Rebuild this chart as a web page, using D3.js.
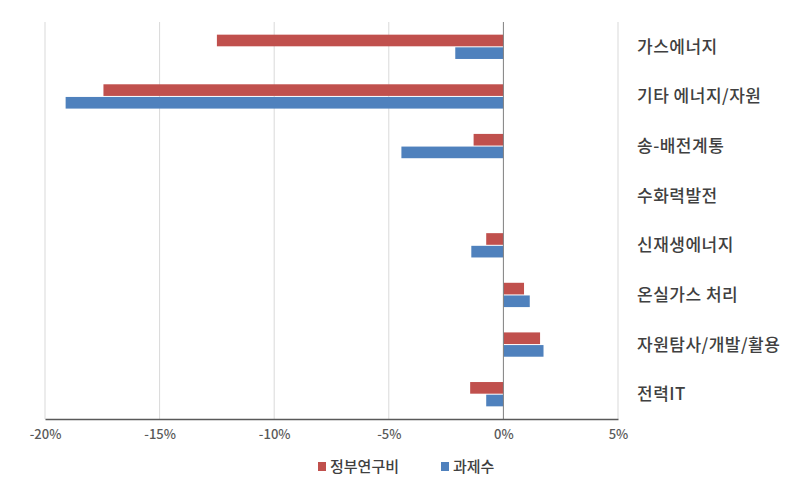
<!DOCTYPE html>
<html><head><meta charset="utf-8">
<script src="https://cdn.jsdelivr.net/npm/d3@7"></script>
<style>body{margin:0;background:#fff}</style>
</head><body><svg id="c" width="812" height="490"></svg>
<script>
const categories = ["가스에너지","기타 에너지/자원","송-배전계통","수화력발전","신재생에너지","온실가스 처리","자원탐사/개발/활용","전력IT"];
const seriesNames = ["정부연구비","과제수"];
const funding = [-12.5,-17.45,-1.3,0,-0.75,0.9,1.6,-1.45];
const projects = [-2.1,-19.1,-4.45,0,-1.4,1.15,1.75,-0.75];
const tickValues = [-20,-15,-10,-5,0,5];
const colors = ["#c0504d","#4f81bd"];

const svg = d3.select("#c");
const font = "'Noto Sans CJK KR','Noto Sans',sans-serif";
const x = d3.scaleLinear().domain([-20,5]).range([45,618]);
const y = d3.scaleBand().domain(categories).range([22,419]).paddingInner(0).paddingOuter(0);
const inner = d3.scaleBand().domain(seriesNames).range([0,y.bandwidth()]).paddingInner(0.08).paddingOuter(1.0);

// gridlines
svg.append("g").selectAll("line").data(tickValues.filter(d=>d!==0)).join("line")
  .attr("x1",d=>x(d)).attr("x2",d=>x(d)).attr("y1",22).attr("y2",419)
  .attr("stroke","#d9d9d9").attr("stroke-width",1);

const data = [funding, projects];
data.forEach((vals,si)=>{
  svg.append("g").selectAll("rect").data(vals).join("rect")
    .attr("x",d=>x(Math.min(0,d)))
    .attr("width",d=>Math.abs(x(d)-x(0)))
    .attr("y",(d,i)=>y(categories[i])+inner(seriesNames[si]))
    .attr("height",inner.bandwidth())
    .attr("fill",colors[si]);
});

// zero line & axis
svg.append("line").attr("x1",x(0)).attr("x2",x(0)).attr("y1",22).attr("y2",419).attr("stroke","#7f7f7f").attr("stroke-width",1);
const axis = d3.axisBottom(x).tickValues(tickValues).tickSize(0).tickFormat(d=>d+"%");
const ag = svg.append("g").attr("transform","translate(0,419)").call(axis);
ag.select(".domain").attr("stroke","#595959").attr("stroke-width",1.5);
ag.selectAll("text").attr("dy","1.3em").attr("fill","#595959").style("font-family",font).style("font-size","13px").style("font-weight","500");

// category labels
svg.append("g").selectAll("text").data(categories).join("text")
  .attr("x",637).attr("y",d=>y(d)+y.bandwidth()/2).attr("dy","0.35em")
  .attr("fill","#404040").style("font-family",font).style("font-size","17px").style("font-weight","500")
  .style("letter-spacing","0.5px")
  .text(d=>d);

// legend
const lg = svg.append("g");
const legendPos = [318, 441];
seriesNames.forEach((n,i)=>{
  lg.append("rect").attr("x",legendPos[i]).attr("y",462).attr("width",8).attr("height",9).attr("fill",colors[i]);
  lg.append("text").attr("x",legendPos[i]+12).attr("y",467).attr("dy","0.35em")
    .attr("fill","#404040").style("font-family",font).style("font-size","15px").style("font-weight","500").text(n);
});
</script></body></html>
